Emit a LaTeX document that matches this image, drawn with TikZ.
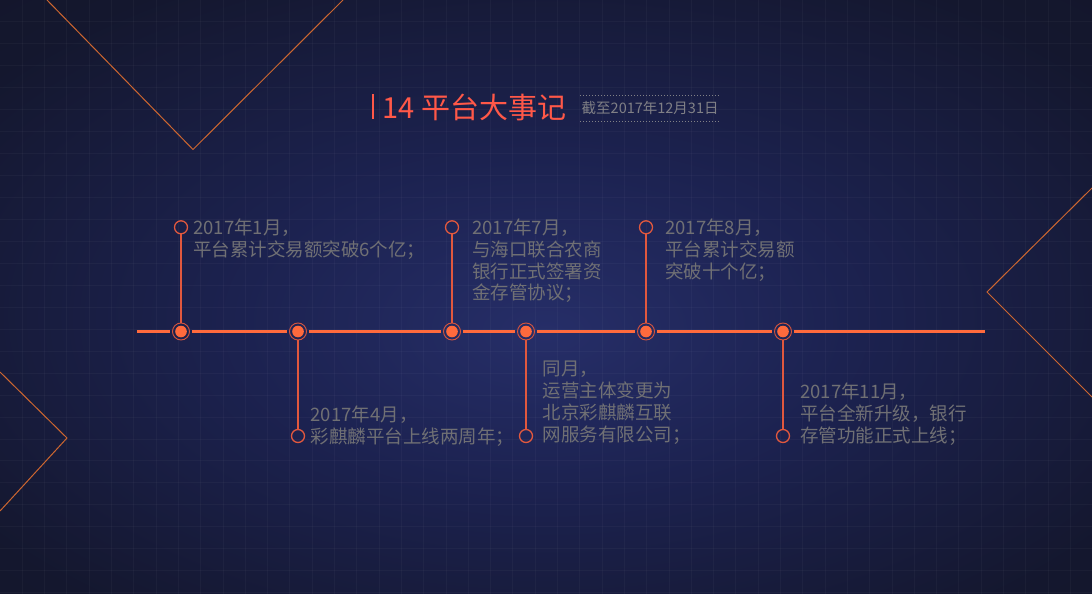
\documentclass[tikz,border=0pt]{standalone}
\usepackage{fontspec}
\newfontfamily\cjk{Noto Sans CJK SC}
\definecolor{bgA}{RGB}{38,46,104}
\definecolor{bgB}{RGB}{28,34,80}
\definecolor{bgC}{RGB}{20,23,46}
\definecolor{bgD}{RGB}{18,20,38}
\definecolor{decoC}{RGB}{205,102,48}
\definecolor{tlC}{RGB}{255,106,61}
\definecolor{ringC}{RGB}{215,85,62}
\definecolor{connC}{RGB}{225,88,62}
\definecolor{txtC}{RGB}{112,112,116}
\definecolor{subC}{RGB}{128,128,134}
\definecolor{titleC}{RGB}{255,88,72}
\pgfdeclareradialshading{bgshade}{\pgfpoint{0bp}{-3bp}}{color(0bp)=(bgA); color(14bp)=(bgB); color(32bp)=(bgC); color(50bp)=(bgD)}
\begin{document}
\begin{tikzpicture}[x=1pt,y=-1pt,
  deco/.style={draw=decoC, line width=1pt},
  gridline/.style={draw=white, draw opacity=0.03, line width=1pt},
  tl/.style={draw=tlC, line width=2.6pt},
  evt/.style={circle, draw=ringC, line width=0.9pt, minimum size=17pt, inner sep=0pt},
  endpt/.style={circle, draw=connC, line width=1.3pt, minimum size=13pt, inner sep=0pt},
  conn/.style={draw=connC, line width=1.25pt},
  txt/.style={font=\cjk\fontsize{18.5}{21.8}\selectfont, text=txtC, align=left, inner sep=0pt, anchor=north west},
]
\useasboundingbox (0,0) rectangle (1092,594);
\shade[shading=bgshade] (0,0) rectangle (1092,594);
\foreach \i in {1,...,49} \draw[gridline] (\i*22.3,0) -- (\i*22.3,594);
\foreach \j in {1,...,27} \draw[gridline] (0,\j*21.95) -- (1092,\j*21.95);

% decorative chevrons
\draw[deco] (47,0) -- (193,149.5) -- (343,0);
\draw[deco] (1092,188) -- (987,292) -- (1092,397);
\draw[deco] (0,372) -- (67,438) -- (0,511);

% title
\fill[titleC] (371.5,93.5) rectangle (374.3,119);
\node[font=\cjk\fontsize{29}{30}\selectfont, text=titleC, anchor=west, inner sep=0pt] (title) at (382.5,107) {14 平台大事记};
\node[font=\cjk\fontsize{14.5}{16}\selectfont, text=subC, anchor=west, inner sep=0pt] (sub) at (581.5,108) {截至2017年12月31日};
\draw[subC, line width=1pt, dash pattern=on 1pt off 2pt] (580,95) -- (719,95);
\draw[subC, line width=1pt, dash pattern=on 1pt off 2pt] (580,121) -- (719,121);

% timeline
\coordinate (L) at (137,331.5);
\coordinate (R) at (985,331.5);
\node[evt] (e1) at (181,331.5) {};
\node[evt] (e2) at (298,331.5) {};
\node[evt] (e3) at (452,331.5) {};
\node[evt] (e4) at (526,331.5) {};
\node[evt] (e5) at (646,331.5) {};
\node[evt] (e6) at (783,331.5) {};
\foreach \n in {e1,e2,e3,e4,e5,e6} \fill[tlC] (\n.center) circle (5.8pt);
\draw[tl, shorten >=2.5pt] (L) -- (e1);
\draw[tl, shorten >=2.5pt, shorten <=2.5pt] (e1) -- (e2);
\draw[tl, shorten >=2.5pt, shorten <=2.5pt] (e2) -- (e3);
\draw[tl, shorten >=2.5pt, shorten <=2.5pt] (e3) -- (e4);
\draw[tl, shorten >=2.5pt, shorten <=2.5pt] (e4) -- (e5);
\draw[tl, shorten >=2.5pt, shorten <=2.5pt] (e5) -- (e6);
\draw[tl, shorten <=2.5pt] (e6) -- (R);

% end points
\node[endpt] (p1) at (181,227.3) {};
\node[endpt] (p3) at (452,227.3) {};
\node[endpt] (p5) at (646,227.3) {};
\node[endpt] (p2) at (298,436) {};
\node[endpt] (p4) at (526,436) {};
\node[endpt] (p6) at (783,436) {};
\draw[conn] (p1) -- (e1);
\draw[conn] (p3) -- (e3);
\draw[conn] (p5) -- (e5);
\draw[conn] (p2) -- (e2);
\draw[conn] (p4) -- (e4);
\draw[conn] (p6) -- (e6);

% texts
\node[txt] (x1) at (193,218.6) {2017年1月，\\平台累计交易额突破6个亿；};
\node[txt] (x3) at (472,218.6) {2017年7月，\\与海口联合农商\\银行正式签署资\\金存管协议；};
\node[txt] (x5) at (665,218.6) {2017年8月，\\平台累计交易额\\突破十个亿；};
\node[txt] (x2) at (310.5,405.5) {2017年4月，\\彩麒麟平台上线两周年；};
\node[txt] (x4) at (542.5,360.9) {同月，\\运营主体变更为\\北京彩麒麟互联\\网服务有限公司；};
\node[txt] (x6) at (800,382.8) {2017年11月，\\平台全新升级，银行\\存管功能正式上线；};
\end{tikzpicture}
\end{document}
